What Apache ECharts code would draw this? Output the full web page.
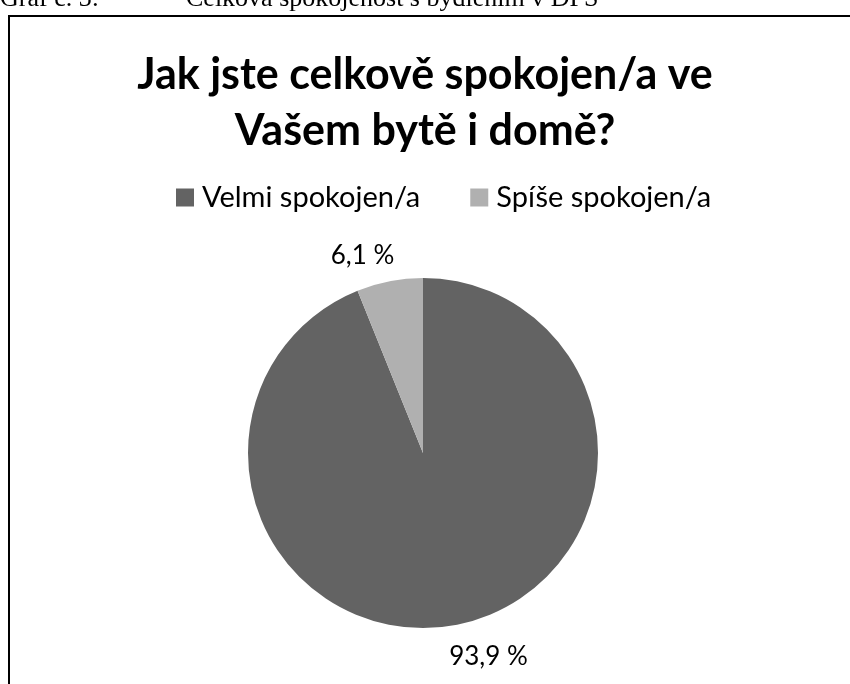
<!DOCTYPE html>
<html><head><meta charset="utf-8">
<script src="https://cdn.jsdelivr.net/npm/echarts@6/dist/echarts.min.js"></script>
<style>html,body{margin:0;padding:0;background:#fff}#c{width:850px;height:684px}</style>
</head><body><div id="c"></div>
<script>
const categories = ['Velmi spokojen/a', 'Spíše spokojen/a'];
const values = [93.9, 6.1];
const colors = ['#636363', '#b0b0b0'];
const titleLines = ['Jak jste celkově spokojen/a ve', 'Vašem bytě i domě?'];
const captionLeft = 'Graf č. 3:';
const captionRight = 'Celková spokojenost s bydlením v DPS';

const chart = echarts.init(document.getElementById('c'), null, {renderer: 'canvas'});
const F = 'Lato, "Open Sans", sans-serif';
chart.setOption({
  animation: false,
  backgroundColor: '#fff',
  graphic: [
    {type: 'rect', shape: {x: 9, y: 16, width: 900, height: 800}, style: {fill: 'none', stroke: '#000', lineWidth: 2}},
    {type: 'text', x: 0, y: 12, style: {text: captionLeft, font: '26px "Liberation Serif"', fill: '#000', textVerticalAlign: 'bottom'}},
    {type: 'text', x: 186, y: 12, style: {text: captionRight, font: '26px "Liberation Serif"', fill: '#000', textVerticalAlign: 'bottom'}}
  ],
  title: {
    text: titleLines.join('\n'),
    left: 'center', top: 42,
    textStyle: {fontFamily: F, fontWeight: 'bold', fontSize: 43, lineHeight: 56, color: '#000'}
  },
  legend: {
    top: 178, left: 171,
    itemWidth: 18, itemHeight: 18, itemGap: 50,
    icon: 'rect',
    textStyle: {fontFamily: F, fontSize: 29, color: '#000', padding: [0, 0, 0, 3]},
    data: categories
  },
  series: [{
    type: 'pie',
    center: [423, 453],
    radius: [0, 175],
    startAngle: 90,
    clockwise: true,
    label: {
      show: true, position: 'outside',
      fontFamily: F, fontSize: 26, color: '#000',
      formatter: p => p.value.toFixed(1).replace('.', ',') + ' %'
    },
    labelLine: {show: false, length: 22, length2: 0},
    labelLayout: function (p) {
      return {align: 'center', verticalAlign: 'middle', dx: p.dataIndex === 0 ? 23 : -18, dy: p.dataIndex === 0 ? 10 : -4};
    },
    emphasis: {disabled: true},
    itemStyle: {borderWidth: 0},
    data: categories.map((c, i) => ({name: c, value: values[i], itemStyle: {color: colors[i]}}))
  }]
});
</script></body></html>
